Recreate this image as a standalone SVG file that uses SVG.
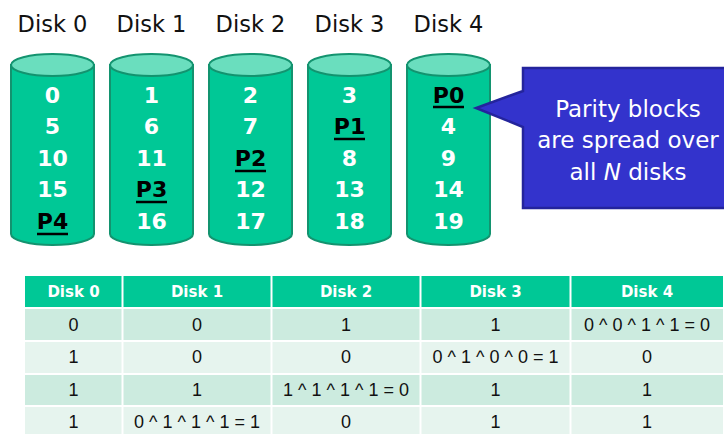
<svg xmlns="http://www.w3.org/2000/svg" width="724" height="434" viewBox="0 0 724 434">
<style>
.lbl{font-family:"DejaVu Sans",Verdana,sans-serif;font-size:22.5px;fill:#111;text-anchor:middle}
.num{font-family:"DejaVu Sans",Verdana,sans-serif;font-weight:bold;font-size:22px;fill:#fff;text-anchor:middle}
.par{fill:#000}
.ul{stroke:#000;stroke-width:2.5}
.body{fill:#00C896;stroke:#13936F;stroke-width:2}
.top{fill:#6ADEBE;stroke:#13936F;stroke-width:2}
.call{font-family:"DejaVu Sans",Verdana,sans-serif;font-size:23px;fill:#fff;text-anchor:middle}
.th{font-family:"DejaVu Sans",Verdana,sans-serif;font-weight:bold;font-size:15px;fill:#fff;text-anchor:middle}
.td{font-family:"Liberation Sans",Arial,sans-serif;font-size:18px;fill:#111;text-anchor:middle}
.sep{stroke:#fff;stroke-width:2}
</style>
<defs>
<g id="cyl">
<path class="body" d="M0,0 V169 A41.5,11 0 0 0 83,169 V0 Z"/>
<ellipse class="top" cx="41.5" cy="0" rx="41.5" ry="11"/>
</g>
</defs>
<g id="disk0">
<text class="lbl" x="52.5" y="32">Disk 0</text>
<use href="#cyl" x="11" y="65"/>
<text class="num" x="52.5" y="103">0</text>
<text class="num" x="52.5" y="134">5</text>
<text class="num" x="52.5" y="166">10</text>
<text class="num" x="52.5" y="197">15</text>
<text class="num par" x="52.5" y="229">P4</text>
<line class="ul" x1="37" y1="234" x2="68" y2="234"/>
</g>
<g id="disk1">
<text class="lbl" x="151.5" y="32">Disk 1</text>
<use href="#cyl" x="110" y="65"/>
<text class="num" x="151.5" y="103">1</text>
<text class="num" x="151.5" y="134">6</text>
<text class="num" x="151.5" y="166">11</text>
<text class="num par" x="151.5" y="197">P3</text>
<line class="ul" x1="136" y1="202" x2="167" y2="202"/>
<text class="num" x="151.5" y="229">16</text>
</g>
<g id="disk2">
<text class="lbl" x="250.5" y="32">Disk 2</text>
<use href="#cyl" x="209" y="65"/>
<text class="num" x="250.5" y="103">2</text>
<text class="num" x="250.5" y="134">7</text>
<text class="num par" x="250.5" y="166">P2</text>
<line class="ul" x1="235" y1="171" x2="266" y2="171"/>
<text class="num" x="250.5" y="197">12</text>
<text class="num" x="250.5" y="229">17</text>
</g>
<g id="disk3">
<text class="lbl" x="349.5" y="32">Disk 3</text>
<use href="#cyl" x="308" y="65"/>
<text class="num" x="349.5" y="103">3</text>
<text class="num par" x="349.5" y="134">P1</text>
<line class="ul" x1="334" y1="139" x2="365" y2="139"/>
<text class="num" x="349.5" y="166">8</text>
<text class="num" x="349.5" y="197">13</text>
<text class="num" x="349.5" y="229">18</text>
</g>
<g id="disk4">
<text class="lbl" x="448.5" y="32">Disk 4</text>
<use href="#cyl" x="407" y="65"/>
<text class="num par" x="448.5" y="103">P0</text>
<line class="ul" x1="433" y1="107" x2="464" y2="107"/>
<text class="num" x="448.5" y="134">4</text>
<text class="num" x="448.5" y="166">9</text>
<text class="num" x="448.5" y="197">14</text>
<text class="num" x="448.5" y="229">19</text>
</g>
<g id="callout">
<path d="M523,68 H728 V208 H523 V127 L476,108 L523,91 Z" fill="#3333CC" stroke="#24249C" stroke-width="2.5"/>
<text class="call" x="628" y="117">Parity blocks</text>
<text class="call" x="628" y="148">are spread over</text>
<text class="call" x="628" y="180">all <tspan font-style="italic">N</tspan> disks</text>
</g>
<g id="table">
<rect x="25" y="276" width="698" height="31" fill="#00C896"/>
<rect x="25" y="309" width="698" height="32" fill="#CCEBDF"/>
<rect x="25" y="341" width="698" height="33" fill="#E6F4EE"/>
<rect x="25" y="374" width="698" height="32" fill="#CCEBDF"/>
<rect x="25" y="406" width="698" height="28" fill="#E6F4EE"/>
<line class="sep" x1="25" y1="341" x2="723" y2="341"/>
<line class="sep" x1="25" y1="374" x2="723" y2="374"/>
<line class="sep" x1="25" y1="406" x2="723" y2="406"/>
<line class="sep" x1="122.5" y1="276" x2="122.5" y2="434"/>
<line class="sep" x1="271.5" y1="276" x2="271.5" y2="434"/>
<line class="sep" x1="420.5" y1="276" x2="420.5" y2="434"/>
<line class="sep" x1="570.5" y1="276" x2="570.5" y2="434"/>
<text class="th" x="73.5" y="297">Disk 0</text>
<text class="th" x="197" y="297">Disk 1</text>
<text class="th" x="346" y="297">Disk 2</text>
<text class="th" x="495.5" y="297">Disk 3</text>
<text class="th" x="647" y="297">Disk 4</text>
<text class="td" x="73.5" y="331">0</text>
<text class="td" x="197" y="331">0</text>
<text class="td" x="346" y="331">1</text>
<text class="td" x="495.5" y="331">1</text>
<text class="td" x="647" y="331">0 ^ 0 ^ 1 ^ 1 = 0</text>
<text class="td" x="73.5" y="363">1</text>
<text class="td" x="197" y="363">0</text>
<text class="td" x="346" y="363">0</text>
<text class="td" x="495.5" y="363">0 ^ 1 ^ 0 ^ 0 = 1</text>
<text class="td" x="647" y="363">0</text>
<text class="td" x="73.5" y="396">1</text>
<text class="td" x="197" y="396">1</text>
<text class="td" x="346" y="396">1 ^ 1 ^ 1 ^ 1 = 0</text>
<text class="td" x="495.5" y="396">1</text>
<text class="td" x="647" y="396">1</text>
<text class="td" x="73.5" y="428">1</text>
<text class="td" x="197" y="428">0 ^ 1 ^ 1 ^ 1 = 1</text>
<text class="td" x="346" y="428">0</text>
<text class="td" x="495.5" y="428">1</text>
<text class="td" x="647" y="428">1</text>
</g>
</svg>
